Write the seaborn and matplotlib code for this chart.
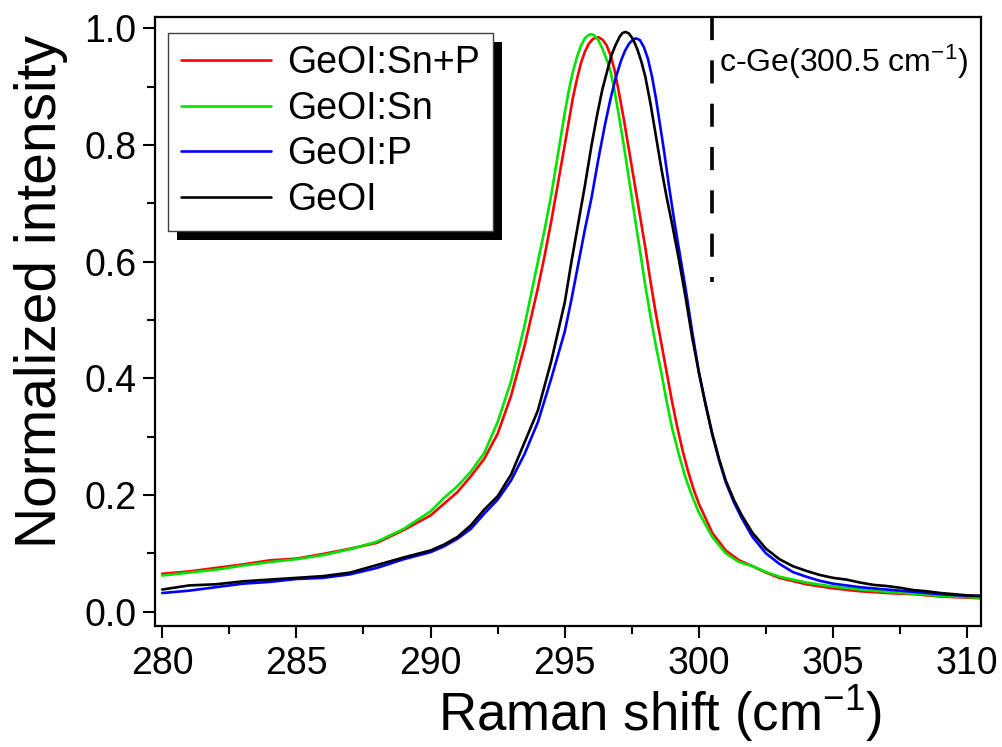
import numpy as np
import pandas as pd
import matplotlib
matplotlib.use("Agg")
import matplotlib.pyplot as plt
import seaborn as sns
from matplotlib.patches import Rectangle

# ---------------- data ----------------
series_names = ["GeOI:Sn+P", "GeOI:Sn", "GeOI:P", "GeOI"]
series_colors = ["#ff0000", "#00e400", "#0000ff", "#000000"]

snp_x = [280, 281, 282, 283, 284, 285, 286, 287, 288, 289, 290, 290.5, 291, 291.5, 292, 292.5,
         293, 293.5, 293.75, 294, 294.25, 294.5, 294.75, 295.0, 295.15, 295.3, 295.45, 295.6,
         295.75, 295.9, 296.05, 296.25, 296.4, 296.55, 296.7, 296.85, 297.0, 297.2, 297.4,
         297.6, 297.8, 298.0, 298.2, 298.4, 298.6, 298.8, 299.0, 299.2, 299.4, 299.6, 299.8,
         300.0, 300.5, 301.0, 301.5, 302.0, 302.5, 303.0, 304.0, 305.0, 306.0, 307.0, 308.0,
         309.0, 310.0, 310.5]
snp_y = [0.065, 0.069, 0.075, 0.081, 0.088, 0.091, 0.099, 0.108, 0.118, 0.140, 0.165, 0.185,
         0.205, 0.232, 0.262, 0.305, 0.370, 0.455, 0.505, 0.555, 0.610, 0.670, 0.735, 0.800,
         0.840, 0.880, 0.912, 0.940, 0.960, 0.974, 0.982, 0.985, 0.981, 0.972, 0.955, 0.930,
         0.895, 0.845, 0.790, 0.735, 0.680, 0.625, 0.565, 0.510, 0.460, 0.410, 0.360, 0.315,
         0.275, 0.240, 0.210, 0.185, 0.135, 0.105, 0.088, 0.078, 0.067, 0.058, 0.047, 0.040,
         0.035, 0.032, 0.030, 0.026, 0.024, 0.023]

sn_x = [280, 281, 282, 283, 284, 285, 286, 287, 288, 289, 290, 290.5, 291, 291.5, 292, 292.5,
        293, 293.5, 293.75, 294, 294.25, 294.5, 294.75, 295.0, 295.15, 295.3, 295.45, 295.6,
        295.75, 295.9, 296.0, 296.1, 296.25, 296.4, 296.55, 296.7, 296.85, 297.0, 297.2, 297.4,
        297.6, 297.8, 298.0, 298.2, 298.4, 298.6, 298.8, 299.0, 299.25, 299.5, 299.75, 300.0,
        300.5, 301.0, 301.5, 302.0, 302.5, 303.0, 304.0, 305.0, 306.0, 307.0, 308.0, 309.0,
        310.0, 310.5]
sn_y = [0.062, 0.067, 0.072, 0.079, 0.085, 0.090, 0.097, 0.107, 0.120, 0.142, 0.172, 0.195,
        0.215, 0.240, 0.272, 0.325, 0.395, 0.490, 0.545, 0.600, 0.655, 0.715, 0.785, 0.855,
        0.893, 0.925, 0.950, 0.970, 0.983, 0.989, 0.990, 0.988, 0.980, 0.966, 0.948, 0.928,
        0.895, 0.855, 0.800, 0.740, 0.680, 0.620, 0.560, 0.505, 0.455, 0.410, 0.360, 0.315,
        0.270, 0.230, 0.198, 0.170, 0.128, 0.100, 0.085, 0.078, 0.068, 0.060, 0.050, 0.043,
        0.038, 0.034, 0.031, 0.027, 0.025, 0.024]

p_x = [280, 281, 282, 283, 284, 285, 286, 287, 288, 289, 290, 290.5, 291, 291.5, 292, 292.5,
       293, 293.5, 294, 294.5, 295.0, 295.25, 295.5, 295.75, 296.0, 296.25, 296.5, 296.7,
       296.9, 297.1, 297.25, 297.4, 297.55, 297.66, 297.8, 297.95, 298.1, 298.25, 298.4,
       298.55, 298.7, 298.9, 299.1, 299.3, 299.5, 299.75, 300.0, 300.25, 300.5, 300.75, 301.0,
       301.3, 301.6, 302.0, 302.5, 303.0, 303.5, 304.0, 304.5, 305.0, 305.5, 306.0, 306.5,
       307.0, 307.5, 308.0, 308.5, 309.0, 310.0, 310.5]
p_y = [0.032, 0.036, 0.042, 0.048, 0.051, 0.056, 0.058, 0.064, 0.075, 0.090, 0.102, 0.112,
       0.125, 0.142, 0.168, 0.192, 0.225, 0.270, 0.325, 0.400, 0.480, 0.535, 0.595, 0.655,
       0.710, 0.775, 0.835, 0.878, 0.915, 0.945, 0.962, 0.974, 0.981, 0.983, 0.980, 0.968,
       0.948, 0.918, 0.880, 0.835, 0.790, 0.725, 0.665, 0.610, 0.555, 0.480, 0.410, 0.355,
       0.303, 0.260, 0.222, 0.188, 0.160, 0.128, 0.100, 0.082, 0.068, 0.060, 0.053, 0.048,
       0.045, 0.042, 0.040, 0.038, 0.036, 0.034, 0.032, 0.030, 0.027, 0.027]

geoi_x = [280, 281, 282, 283, 284, 285, 286, 287, 288, 289, 290, 290.5, 291, 291.5, 292, 292.5,
          293, 293.5, 294, 294.5, 295.0, 295.25, 295.5, 295.75, 296.0, 296.2, 296.4, 296.6,
          296.75, 296.9, 297.05, 297.15, 297.27, 297.4, 297.55, 297.7, 297.85, 298.0, 298.2,
          298.4, 298.6, 298.8, 299.0, 299.25, 299.5, 299.75, 300.0, 300.25, 300.5, 300.75,
          301.0, 301.3, 301.6, 302.0, 302.5, 303.0, 303.5, 304.0, 304.5, 305.0, 305.5, 306.0,
          306.5, 307.0, 307.5, 308.0, 308.5, 309.0, 310.0, 310.5]
geoi_y = [0.038, 0.045, 0.047, 0.052, 0.055, 0.058, 0.061, 0.067, 0.080, 0.093, 0.105, 0.115,
          0.128, 0.148, 0.175, 0.198, 0.235, 0.290, 0.345, 0.430, 0.530, 0.600, 0.665, 0.730,
          0.800, 0.850, 0.895, 0.930, 0.955, 0.972, 0.986, 0.992, 0.994, 0.991, 0.981, 0.965,
          0.944, 0.918, 0.870, 0.815, 0.760, 0.710, 0.665, 0.605, 0.540, 0.470, 0.410, 0.355,
          0.305, 0.262, 0.225, 0.192, 0.165, 0.135, 0.108, 0.090, 0.078, 0.070, 0.063, 0.058,
          0.055, 0.050, 0.046, 0.044, 0.041, 0.037, 0.035, 0.032, 0.028, 0.027]

ref_shift = 300.5
ref_label = "c-Ge(300.5 cm$^{-1}$)"
x_ticks = [280, 285, 290, 295, 300, 305, 310]
y_ticks = [0.0, 0.2, 0.4, 0.6, 0.8, 1.0]

frames = []
for name, xs, ys in zip(series_names, [snp_x, sn_x, p_x, geoi_x], [snp_y, sn_y, p_y, geoi_y]):
    frames.append(pd.DataFrame({"shift": xs, "intensity": ys, "sample": name}))
df = pd.concat(frames, ignore_index=True)

# ---------------- style ----------------
sns.set_theme(style="ticks")
plt.rcParams["font.family"] = ["Liberation Sans", "DejaVu Sans"]
plt.rcParams["mathtext.fontset"] = "custom"
plt.rcParams["mathtext.rm"] = "Liberation Sans"
plt.rcParams["mathtext.it"] = "Liberation Sans:italic"
plt.rcParams["mathtext.bf"] = "Liberation Sans:bold"
for k in ["text.color", "axes.labelcolor", "xtick.color", "ytick.color", "axes.edgecolor"]:
    plt.rcParams[k] = "black"

fig = plt.figure(figsize=(10.03, 7.47), dpi=100)
fig.patch.set_facecolor("white")
ax = fig.add_axes([0.1545, 0.1624, 0.978 - 0.1545, 0.9768 - 0.1624])
ax.set_facecolor("white")

sns.lineplot(data=df, x="shift", y="intensity", hue="sample", hue_order=series_names,
             palette=dict(zip(series_names, series_colors)), estimator=None, sort=True,
             linewidth=1.9, ax=ax, legend=False)

# reference dashed line
ax.plot([ref_shift, ref_shift], [1.019, 0.565], color="black", lw=2.6,
        linestyle=(0, (6.4, 5.6)), solid_capstyle="butt", dash_capstyle="butt", zorder=3)
ax.text(ref_shift + 0.25, 0.942, ref_label, fontsize=23, ha="left", va="center")

ax.set_xlim(279.73, 310.51)
ax.set_ylim(-0.024, 1.019)
ax.set_xticks(x_ticks)
ax.set_yticks(y_ticks)
ax.set_xticklabels([str(t) for t in x_ticks])
ax.set_yticklabels([f"{t:.1f}" for t in y_ticks])
ax.set_xticks([282.5, 287.5, 292.5, 297.5, 302.5, 307.5], minor=True)
ax.set_yticks([0.1, 0.3, 0.5, 0.7, 0.9], minor=True)
ax.tick_params(axis="both", which="major", direction="out", length=8.5, width=1.5,
               labelsize=27, colors="black", pad=5)
ax.tick_params(axis="both", which="minor", direction="out", length=6, width=1.5, colors="black")
ax.tick_params(axis="x", which="major", pad=6)
for sp in ax.spines.values():
    sp.set_linewidth(1.6)
    sp.set_color("black")
    sp.set_visible(True)

ax.set_xlabel("Raman shift (cm$^{-1}$)", fontsize=38)
ax.set_ylabel("Normalized intensity", fontsize=41)
ax.xaxis.set_label_coords(0.611, -0.095)
ax.yaxis.set_label_coords(-0.105, 0.55)

# legend
handles = [plt.Line2D([], [], color=c, lw=1.9) for c in series_colors]
leg = ax.legend(handles, series_names, loc="upper left", bbox_to_anchor=(0.016, 0.975),
                borderaxespad=0, fontsize=27, frameon=True, fancybox=False,
                edgecolor="#404040", framealpha=1, labelspacing=0.26, borderpad=0.33,
                handlelength=2.4, handletextpad=0.45)
leg.get_frame().set_linewidth(1.0)
leg.set_zorder(6)

fig.canvas.draw()
bb = leg.get_window_extent()
W, H = fig.canvas.get_width_height()
off = 9
shadow = Rectangle(((bb.x0 + off) / W, (bb.y0 - off) / H), bb.width / W, bb.height / H,
                   transform=fig.transFigure, facecolor="black", edgecolor="none",
                   zorder=5.5, clip_on=False)
ax.add_artist(shadow)

fig.savefig("out.png", dpi=100, facecolor="white")
